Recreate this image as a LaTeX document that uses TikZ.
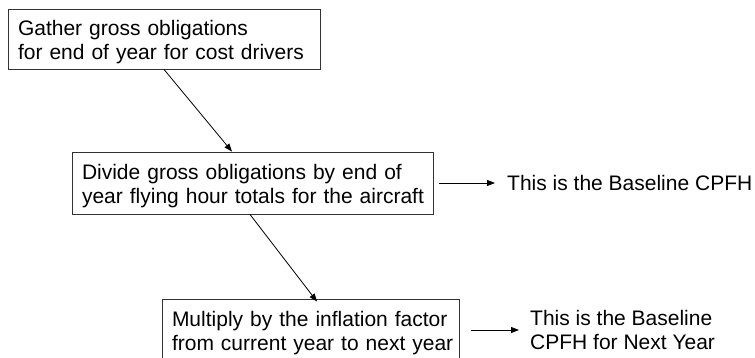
\documentclass[tikz,border=0pt]{standalone}
\usepackage{fontspec}
\setmainfont{Liberation Sans}
\usetikzlibrary{arrows.meta}
\begin{document}
\begin{tikzpicture}[x=1pt,y=-1pt,
  stepbox/.style={draw=black!80, line width=0.9pt, fill=white, inner xsep=10pt, inner ysep=0pt,
    align=left, text height=20pt, text depth=26pt, font=\fontsize{21}{23.5}\selectfont},
  note/.style={inner xsep=11pt, inner ysep=0pt, align=left, font=\fontsize{21}{23.5}\selectfont},
  arr/.style={draw=black, line width=0.8pt, -{Triangle[length=8pt,width=6pt]}}]
\clip (0,0) rectangle (755,358);
\node[stepbox, minimum width=312pt, minimum height=60pt, text width=292pt] (b1) at (164,39)
  {\mbox{Gather gross obligations}\\\mbox{for end of year for cost drivers}};
\node[stepbox, minimum width=361pt, minimum height=62pt, text width=341pt] (b2) at (252.5,183)
  {\mbox{Divide gross obligations by end of}\\\mbox{year flying hour totals for the aircraft}};
\node[stepbox, minimum width=297pt, minimum height=61pt, text width=277pt] (b3) at (310.5,329.5)
  {\mbox{Multiply by the inflation factor}\\\mbox{from current year to next year}};
\node[note, anchor=west, inner xsep=12pt] (t1) at (495,183) {This is the Baseline CPFH};
\node[note, anchor=west] (t2) at (519,330) {This is the Baseline\\CPFH for Next Year};
\draw[arr] (b1.south) -- ([xshift=-20.5pt]b2.north);
\draw[arr] ([xshift=-2.5pt]b2.south) -- ([xshift=6.5pt,yshift=-3pt]b3.north);
\draw[arr, shorten <=6pt] (b2.east) -- (t1.west);
\draw[arr, shorten <=12pt] (b3.east |- t2.west) -- (t2.west);
\end{tikzpicture}
\end{document}
